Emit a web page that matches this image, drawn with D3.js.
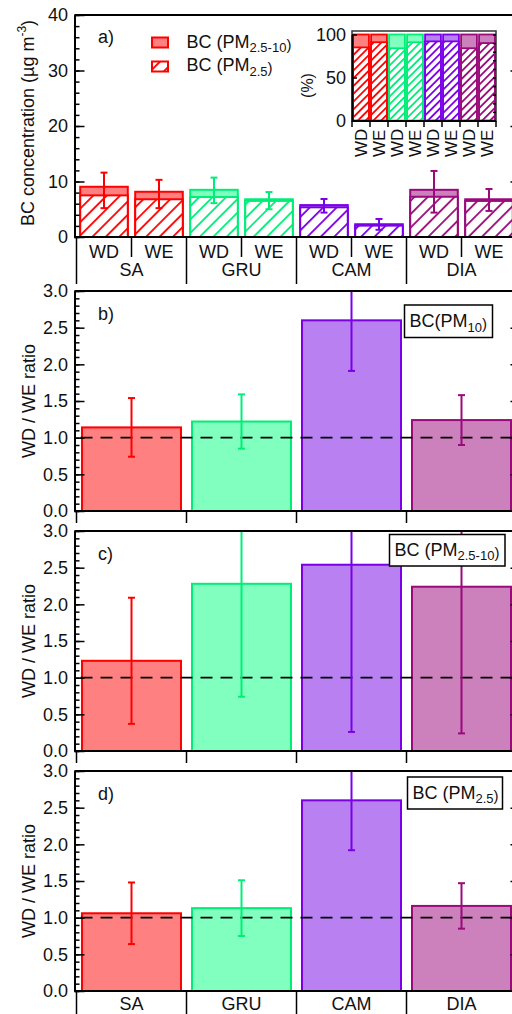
<!DOCTYPE html>
<html>
<head>
<meta charset="utf-8">
<script src="https://cdn.jsdelivr.net/npm/d3@7"></script>
<style>
    body { margin: 0; background: #fff; }
    svg { display: block; font-family: 'Liberation Sans', Arial, sans-serif; }
</style>
</head>
<body>
<div id="chart"></div>
<script>
'use strict';

const sites = ['SA', 'GRU', 'CAM', 'DIA'];
const periods = ['WD', 'WE'];

// panel a, order: SA WD, SA WE, GRU WD, GRU WE, CAM WD, CAM WE, DIA WD, DIA WE
const bcPM10 = [9.05, 8.15, 8.5, 6.8, 5.75, 2.3, 8.5, 6.8];
const bcPM25 = [7.5, 6.8, 7.2, 6.5, 5.35, 2.05, 7.25, 6.5];
const bcErrHigh = [11.6, 10.3, 10.7, 8.1, 6.85, 3.25, 11.9, 8.65];
const bcErrLow = [5.2, 5.2, 6.1, 5.0, 4.4, 1.3, 4.4, 4.7];

// inset: PM2.5 share of PM10 (%)
const pm25Share = [85, 91, 84, 91, 92, 92, 84, 90];

// panels b-d: WD / WE ratio and its error
const ratioPM10 = [1.14, 1.22, 2.60, 1.24];
const ratioPM10Err = [0.40, 0.37, 0.69, 0.34];
const ratioCoarse = [1.23, 2.28, 2.54, 2.24];
const ratioCoarseErr = [0.86, 1.54, 2.28, 2.0];
const ratioPM25 = [1.06, 1.13, 2.60, 1.16];
const ratioPM25Err = [0.42, 0.38, 0.68, 0.31];

const concTicks = [0, 10, 20, 30, 40];
const ratioTicks = [0, 0.5, 1, 1.5, 2, 2.5, 3];
const shareTicks = [0, 50, 100];

const width = 512;
const height = 1014;
const plotLeft = 76.5;
const plotRight = 516.5;
const axisX = 74.5;
const textColour = '#111';
const siteStroke = ['#ff0000', '#00ee78', '#7b00e8', '#990a7a'];
const siteFill = ['#ff8080', '#80ffbf', '#b980f2', '#cc80bc'];

const svg = d3.select('#chart')
    .append('svg')
    .attr('width', width)
    .attr('height', height);

const defs = svg.append('defs');

function addHatch(id, colour, gap) {
    const p = defs.append('pattern')
        .attr('id', id)
        .attr('patternUnits', 'userSpaceOnUse')
        .attr('width', gap)
        .attr('height', gap)
        .attr('patternTransform', 'rotate(45)');
    p.append('rect').attr('width', gap).attr('height', gap).attr('fill', '#fff');
    p.append('line')
        .attr('x1', gap / 2).attr('x2', gap / 2)
        .attr('y1', 0).attr('y2', gap)
        .attr('stroke', colour)
        .attr('stroke-width', 1.8);
}

siteStroke.forEach(function (c, i) {
    addHatch('hatch-' + i, c, 9.5);
    addHatch('hatch-small-' + i, c, 5.5);
});

const barData = sites.flatMap(function (site, i) {
    return periods.map(function (period, j) {
        const k = i * 2 + j;
        return {
            key: k, site: site, period: period, colour: i,
            pm10: bcPM10[k], pm25: bcPM25[k],
            hi: bcErrHigh[k], lo: bcErrLow[k], share: pm25Share[k]
        };
    });
});

function styleAxis(g, size) {
    g.attr('font-family', null).attr('font-size', size || 18).attr('fill', textColour);
    g.selectAll('line').attr('stroke', '#000').attr('stroke-width', 1.5);
    g.select('.domain').attr('stroke', '#000').attr('stroke-width', 2);
    g.selectAll('text').attr('fill', textColour);
}

function minorTicks(g) {
    g.select('.domain').remove();
    g.selectAll('line').attr('stroke', '#000').attr('stroke-width', 1.5);
}

function addSubLabel(sel, x, y, main, sub) {
    const t = sel.append('text')
        .attr('x', x).attr('y', y)
        .attr('font-size', 18)
        .attr('fill', textColour);
    t.append('tspan').text(main);
    t.append('tspan').attr('font-size', 13).attr('dy', 4.5).text(sub);
    t.append('tspan').attr('font-size', 15).attr('dy', -2.5).text(')');
    return t;
}

// ---------- panel a ----------
const xBar = d3.scaleBand()
    .domain(d3.range(barData.length))
    .range([plotLeft, plotRight])
    .paddingInner(0.135)
    .paddingOuter(0.0675);

const yConc = d3.scaleLinear().domain([0, 40]).range([237, 15]);

const panelA = svg.append('g');

panelA.selectAll('rect.total')
    .data(barData)
    .join('rect')
    .attr('class', 'total')
    .attr('x', function (d) { return xBar(d.key); })
    .attr('y', function (d) { return yConc(d.pm10); })
    .attr('width', xBar.bandwidth())
    .attr('height', function (d) { return yConc(0) - yConc(d.pm10); })
    .attr('fill', function (d) { return siteFill[d.colour]; })
    .attr('stroke', function (d) { return siteStroke[d.colour]; })
    .attr('stroke-width', 2);

panelA.selectAll('rect.fine')
    .data(barData)
    .join('rect')
    .attr('class', 'fine')
    .attr('x', function (d) { return xBar(d.key); })
    .attr('y', function (d) { return yConc(d.pm25); })
    .attr('width', xBar.bandwidth())
    .attr('height', function (d) { return yConc(0) - yConc(d.pm25); })
    .attr('fill', function (d) { return 'url(#hatch-' + d.colour + ')'; })
    .attr('stroke', function (d) { return siteStroke[d.colour]; })
    .attr('stroke-width', 2);

// error bars
const errA = panelA.selectAll('g.err')
    .data(barData)
    .join('g')
    .attr('class', 'err')
    .attr('stroke', function (d) { return siteStroke[d.colour]; })
    .attr('stroke-width', 2);

errA.append('line')
    .attr('x1', function (d) { return xBar(d.key) + xBar.bandwidth() / 2; })
    .attr('x2', function (d) { return xBar(d.key) + xBar.bandwidth() / 2; })
    .attr('y1', function (d) { return yConc(d.lo); })
    .attr('y2', function (d) { return yConc(d.hi); });

['lo', 'hi'].forEach(function (end) {
    errA.append('line')
        .attr('x1', function (d) { return xBar(d.key) + xBar.bandwidth() / 2 - 3.5; })
        .attr('x2', function (d) { return xBar(d.key) + xBar.bandwidth() / 2 + 3.5; })
        .attr('y1', function (d) { return yConc(d[end]); })
        .attr('y2', function (d) { return yConc(d[end]); });
});

// axes
panelA.append('g')
    .attr('transform', `translate(${axisX},0)`)
    .call(d3.axisLeft(yConc).tickValues(d3.range(0, 41, 2)).tickSize(-5).tickFormat(''))
    .call(minorTicks);

panelA.append('g')
    .attr('transform', `translate(${axisX},0)`)
    .call(d3.axisLeft(yConc).tickValues(concTicks).tickSize(-10).tickSizeOuter(0).tickPadding(6.5))
    .call(styleAxis);

panelA.append('g')
    .attr('transform', `translate(${plotRight},0)`)
    .call(d3.axisRight(yConc).tickValues(concTicks.slice(1, -1)).tickSize(-6).tickFormat(''))
    .call(minorTicks);

panelA.append('line')
    .attr('x1', axisX).attr('x2', plotRight)
    .attr('y1', yConc(40)).attr('y2', yConc(40))
    .attr('stroke', '#000').attr('stroke-width', 2);

panelA.append('line')
    .attr('x1', axisX).attr('x2', plotRight)
    .attr('y1', yConc(0)).attr('y2', yConc(0))
    .attr('stroke', '#000').attr('stroke-width', 2);

// category axis: WD / WE row, then sites
panelA.selectAll('text.period')
    .data(barData)
    .join('text')
    .attr('class', 'period')
    .attr('x', function (d) { return xBar(d.key) + xBar.bandwidth() / 2; })
    .attr('y', 258)
    .attr('text-anchor', 'middle')
    .attr('font-size', 18)
    .attr('fill', textColour)
    .text(function (d) { return d.period; });

const groupStep = xBar.step() * periods.length;

panelA.selectAll('line.sub-sep')
    .data(sites)
    .join('line')
    .attr('class', 'sub-sep')
    .attr('x1', function (d, i) { return plotLeft + groupStep * i + xBar.step(); })
    .attr('x2', function (d, i) { return plotLeft + groupStep * i + xBar.step(); })
    .attr('y1', yConc(0)).attr('y2', 257)
    .attr('stroke', '#000').attr('stroke-width', 1.5);

panelA.selectAll('line.group-sep')
    .data(d3.range(sites.length + 1))
    .join('line')
    .attr('class', 'group-sep')
    .attr('x1', function (d) { return plotLeft + groupStep * d; })
    .attr('x2', function (d) { return plotLeft + groupStep * d; })
    .attr('y1', yConc(0)).attr('y2', 284)
    .attr('stroke', '#000').attr('stroke-width', 1.5);

panelA.selectAll('text.site')
    .data(sites)
    .join('text')
    .attr('class', 'site')
    .attr('x', function (d, i) { return plotLeft + groupStep * (i + 0.5); })
    .attr('y', 276)
    .attr('text-anchor', 'middle')
    .attr('font-size', 18)
    .attr('fill', textColour)
    .text(function (d) { return d; });

// y label
const yLabA = panelA.append('text')
    .attr('transform', 'translate(33.5,123) rotate(-90)')
    .attr('text-anchor', 'middle')
    .attr('font-size', 18)
    .attr('fill', textColour);
yLabA.append('tspan').text('BC concentration (µg m');
yLabA.append('tspan').attr('font-size', 12).attr('dy', -8).text('-3');
yLabA.append('tspan').attr('dy', 8).text(')');

panelA.append('text')
    .attr('x', 98).attr('y', 43)
    .attr('font-size', 18)
    .attr('fill', textColour)
    .text('a)');

// legend
panelA.append('rect')
    .attr('x', 152).attr('y', 37.5).attr('width', 16).attr('height', 10)
    .attr('fill', siteFill[0]).attr('stroke', siteStroke[0]).attr('stroke-width', 2);
panelA.append('rect')
    .attr('x', 152).attr('y', 61.5).attr('width', 16).attr('height', 10)
    .attr('fill', 'url(#hatch-0)').attr('stroke', siteStroke[0]).attr('stroke-width', 2);
addSubLabel(panelA, 186.5, 47.5, 'BC (PM', '2.5-10');
addSubLabel(panelA, 186.5, 71, 'BC (PM', '2.5');

// ---------- inset ----------
const xIn = d3.scaleBand()
    .domain(d3.range(barData.length))
    .range([352, 496])
    .paddingInner(0.12)
    .paddingOuter(0.06);

const yIn = d3.scaleLinear().domain([0, 100]).range([120.5, 34.5]);
const inset = svg.append('g');
const insetTop = 31;

inset.selectAll('rect.in-total')
    .data(barData)
    .join('rect')
    .attr('class', 'in-total')
    .attr('x', function (d) { return xIn(d.key); })
    .attr('y', yIn(100))
    .attr('width', xIn.bandwidth())
    .attr('height', yIn(0) - yIn(100))
    .attr('fill', function (d) { return siteFill[d.colour]; })
    .attr('stroke', function (d) { return siteStroke[d.colour]; })
    .attr('stroke-width', 1.8);

inset.selectAll('rect.in-fine')
    .data(barData)
    .join('rect')
    .attr('class', 'in-fine')
    .attr('x', function (d) { return xIn(d.key); })
    .attr('y', function (d) { return yIn(d.share); })
    .attr('width', xIn.bandwidth())
    .attr('height', function (d) { return yIn(0) - yIn(d.share); })
    .attr('fill', function (d) { return 'url(#hatch-small-' + d.colour + ')'; })
    .attr('stroke', function (d) { return siteStroke[d.colour]; })
    .attr('stroke-width', 1.8);

inset.append('rect')
    .attr('x', 352).attr('y', insetTop)
    .attr('width', 496 - 352).attr('height', 121 - insetTop)
    .attr('fill', 'none').attr('stroke', '#333').attr('stroke-width', 1.5);

inset.append('g')
    .attr('transform', 'translate(496,0)')
    .call(d3.axisRight(yIn).tickValues(d3.range(0, 101, 10)).tickSize(-3).tickFormat(''))
    .call(minorTicks);

inset.append('g')
    .attr('transform', 'translate(352,0)')
    .call(d3.axisLeft(yIn).tickValues(shareTicks).tickSize(-5).tickSizeOuter(0).tickPadding(6))
    .call(styleAxis);

inset.append('line')
    .attr('x1', 352).attr('x2', 496).attr('y1', 121).attr('y2', 121)
    .attr('stroke', '#000').attr('stroke-width', 2);

inset.selectAll('line.in-sep')
    .data(d3.range(barData.length + 1))
    .join('line')
    .attr('class', 'in-sep')
    .attr('x1', function (d) { return 352 + xIn.step() * d; })
    .attr('x2', function (d) { return 352 + xIn.step() * d; })
    .attr('y1', 121).attr('y2', 127)
    .attr('stroke', '#000').attr('stroke-width', 1.5);

inset.selectAll('text.in-period')
    .data(barData)
    .join('text')
    .attr('class', 'in-period')
    .attr('transform', function (d) {
        return `translate(${xIn(d.key) + xIn.bandwidth() / 2 + 6},157) rotate(-90)`;
    })
    .attr('font-size', 17)
    .attr('fill', textColour)
    .text(function (d) { return d.period; });

inset.append('text')
    .attr('transform', 'translate(313,85.5) rotate(-90)')
    .attr('text-anchor', 'middle')
    .attr('font-size', 16)
    .attr('fill', textColour)
    .text('(%)');

// ---------- panels b-d ----------
const xSite = d3.scaleBand()
    .domain(sites)
    .range([plotLeft, plotRight])
    .paddingInner(0.1)
    .paddingOuter(0.05);

function drawRatioPanel(top, ratios, errs, tag, legend, isLast) {
    const yScale = d3.scaleLinear().domain([0, 3]).range([top + 220, top]);
    const g = svg.append('g');
    const rows = sites.map(function (s, i) {
        return { site: s, i: i, value: ratios[i], err: errs[i] };
    });

    g.selectAll('rect.ratio-bar')
        .data(rows)
        .join('rect')
        .attr('class', 'ratio-bar')
        .attr('x', function (d) { return xSite(d.site); })
        .attr('y', function (d) { return yScale(d.value); })
        .attr('width', xSite.bandwidth())
        .attr('height', function (d) { return yScale(0) - yScale(d.value); })
        .attr('fill', function (d) { return siteFill[d.i]; })
        .attr('stroke', function (d) { return siteStroke[d.i]; })
        .attr('stroke-width', 2);

    g.append('line')
        .attr('x1', plotLeft).attr('x2', plotRight)
        .attr('y1', yScale(1)).attr('y2', yScale(1))
        .attr('stroke', '#000')
        .attr('stroke-width', 1.8)
        .attr('stroke-dasharray', '12,8')
        .attr('stroke-dashoffset', -4);

    const err = g.selectAll('g.ratio-err')
        .data(rows)
        .join('g')
        .attr('class', 'ratio-err')
        .attr('stroke', function (d) { return siteStroke[d.i]; })
        .attr('stroke-width', 2);

    function cx(d) { return xSite(d.site) + xSite.bandwidth() / 2; }

    err.append('line')
        .attr('x1', cx).attr('x2', cx)
        .attr('y1', function (d) { return yScale(d.value - d.err); })
        .attr('y2', function (d) { return yScale(Math.min(d.value + d.err, 3)); });

    err.append('line')
        .attr('x1', function (d) { return cx(d) - 3.5; })
        .attr('x2', function (d) { return cx(d) + 3.5; })
        .attr('y1', function (d) { return yScale(d.value - d.err); })
        .attr('y2', function (d) { return yScale(d.value - d.err); });

    err.filter(function (d) { return d.value + d.err < 3; })
        .append('line')
        .attr('x1', function (d) { return cx(d) - 3.5; })
        .attr('x2', function (d) { return cx(d) + 3.5; })
        .attr('y1', function (d) { return yScale(d.value + d.err); })
        .attr('y2', function (d) { return yScale(d.value + d.err); });

    // axes
    g.append('g')
        .attr('transform', `translate(${axisX},0)`)
        .call(d3.axisLeft(yScale).ticks(30).tickSize(-5).tickFormat(''))
        .call(minorTicks);

    g.append('g')
        .attr('transform', `translate(${axisX},0)`)
        .call(d3.axisLeft(yScale).tickValues(ratioTicks).tickSize(-10).tickSizeOuter(0)
            .tickPadding(6.5).tickFormat(d3.format('.1f')))
        .call(styleAxis);

    g.append('g')
        .attr('transform', `translate(${plotRight},0)`)
        .call(d3.axisRight(yScale).tickValues(ratioTicks.slice(1, -1)).tickSize(-6).tickFormat(''))
        .call(minorTicks);

    g.append('line')
        .attr('x1', axisX).attr('x2', plotRight)
        .attr('y1', yScale(3)).attr('y2', yScale(3))
        .attr('stroke', '#000').attr('stroke-width', 2);

    g.append('line')
        .attr('x1', axisX).attr('x2', plotRight)
        .attr('y1', yScale(0)).attr('y2', yScale(0))
        .attr('stroke', '#000').attr('stroke-width', 2);

    const sepEnd = isLast ? height : yScale(0) + 12;
    g.selectAll('line.site-sep')
        .data(d3.range(sites.length + 1))
        .join('line')
        .attr('class', 'site-sep')
        .attr('x1', function (d) { return plotLeft + xSite.step() * d; })
        .attr('x2', function (d) { return plotLeft + xSite.step() * d; })
        .attr('y1', yScale(0)).attr('y2', sepEnd)
        .attr('stroke', '#000').attr('stroke-width', 1.5);

    if (isLast) {
        g.selectAll('text.site')
            .data(rows)
            .join('text')
            .attr('class', 'site')
            .attr('x', cx)
            .attr('y', 1010)
            .attr('text-anchor', 'middle')
            .attr('font-size', 18)
            .attr('fill', textColour)
            .text(function (d) { return d.site; });
    }

    g.append('text')
        .attr('transform', `translate(35,${(yScale(0) + yScale(3)) / 2}) rotate(-90)`)
        .attr('text-anchor', 'middle')
        .attr('font-size', 18)
        .attr('fill', textColour)
        .text('WD / WE ratio');

    g.append('text')
        .attr('x', 98).attr('y', top + 29)
        .attr('font-size', 18)
        .attr('fill', textColour)
        .text(tag);

    // legend box
    g.append('rect')
        .attr('x', legend.x).attr('y', top + legend.dy)
        .attr('width', legend.w).attr('height', legend.h)
        .attr('fill', '#fff')
        .attr('stroke', '#000')
        .attr('stroke-width', 1.5);
    addSubLabel(g, legend.x + 5, top + legend.dy + legend.h - 10.5, legend.main, legend.sub);
}

drawRatioPanel(291, ratioPM10, ratioPM10Err, 'b)',
    { x: 404.5, dy: 14, w: 88, h: 32.5, main: 'BC(PM', sub: '10' }, false);
drawRatioPanel(531, ratioCoarse, ratioCoarseErr, 'c)',
    { x: 389.5, dy: 3.5, w: 115.5, h: 31.5, main: 'BC (PM', sub: '2.5-10' }, false);
drawRatioPanel(771, ratioPM25, ratioPM25Err, 'd)',
    { x: 407.5, dy: 6, w: 95, h: 32, main: 'BC (PM', sub: '2.5' }, true);
</script>
</body>
</html>
